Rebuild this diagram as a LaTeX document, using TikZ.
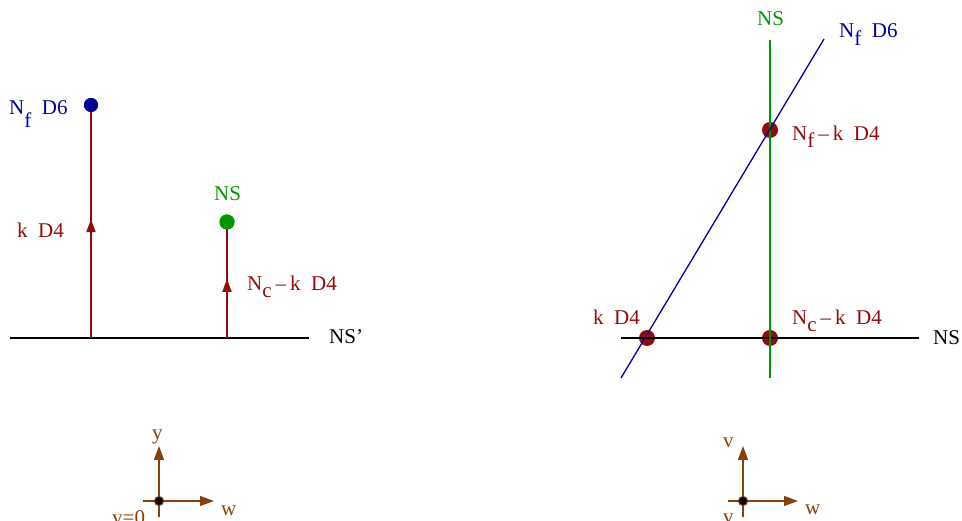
\documentclass[tikz,border=0pt]{standalone}
\usepackage{fontspec}
\setmainfont{Liberation Serif}
\usetikzlibrary{decorations.markings,arrows.meta}
\definecolor{dred}{RGB}{145,12,12}
\definecolor{dblue}{RGB}{0,0,150}
\definecolor{dgreen}{RGB}{0,150,0}
\definecolor{brn}{RGB}{135,65,15}
\newcommand{\lowsub}[2]{\raisebox{-#1pt}{#2}}
\newcommand{\dsh}{\hspace{4pt}–\hspace{4pt}}
\begin{document}
\begin{tikzpicture}[x=1pt,y=-1pt,
  every node/.style={font=\fontsize{21}{24}\selectfont, inner sep=0pt, anchor=base west},
  dot/.style={circle, fill=#1, minimum size=14pt, inner sep=0pt, anchor=center},
  smalldot/.style={circle, fill=black, draw=brn, line width=0.8pt, minimum size=9pt, inner sep=0pt, anchor=center},
  midarrow/.style={decoration={markings, mark=at position #1 with {\arrow{Triangle[length=13pt,width=9pt]}}}, postaction={decorate}},
  axisarrow/.style={brn, line width=1.2pt, -{Triangle[length=14pt,width=10pt]}},
  axisline/.style={brn, line width=1.2pt},
  baseline/.style={line width=1.4pt}]
\useasboundingbox (0,0) rectangle (962,521);
\clip (0,0) rectangle (962,521);
% ---------- left panel
\coordinate (LL) at (10,338);
\coordinate (LR) at (309,338);
\draw[baseline] (LL) -- (LR);
\node (nsp) at (329,344) {NS'};
\coordinate (B1) at (91,338);
\coordinate (B2) at (227,338);
\node[dot=dblue] (d6) at (91,105) {};
\node[dot=dgreen, minimum size=15pt] (nsdot) at (227,222) {};
\draw[dred, line width=2pt, midarrow=0.51] (B1) -- (d6.center);
\draw[dred, line width=2pt, midarrow=0.51] (B2) -- (nsdot.center);
\node[dot=dblue] at (91,105) {};
\node[dot=dgreen, minimum size=15pt] at (227,222) {};
\node[dblue] (nfd6) at (9,115) {N\lowsub{13}{f}\ \ D6};
\node[dred] (kd4l) at (17,238) {k\ \ D4};
\node[dgreen] (nsl) at (214,201) {NS};
\node[dred] (nckd4l) at (247,291) {N\lowsub{7}{c}\dsh k\ \ D4};
% ---------- right panel
\node[dot=dred, minimum size=16pt] (p1) at (770,130) {};
\node[dot=dred, minimum size=16pt] (p2) at (647,338) {};
\node[dot=dred, minimum size=16pt] (p3) at (770,338) {};
\coordinate (RL) at (621,338);
\coordinate (RR) at (919,338);
\draw[baseline] (RL) -- (RR);
\node (nsr) at (933,345) {NS};
\coordinate (GT) at (770,40);
\coordinate (GB) at (770,378);
\draw[dgreen, line width=1.3pt] (GB) -- (GT);
\coordinate (BB) at (621,378);
\coordinate (BT) at (824,39);
\draw[dblue, line width=1.3pt] (BB) -- (BT);
\node[dgreen] (nsr2) at (757,26) {NS};
\node[dblue] (nfd6r) at (839,38) {N\lowsub{8}{f}\ \ D6};
\node[dred] (nfkd4) at (792,141) {N\lowsub{7}{f}\dsh k\ \ D4};
\node[dred] (kd4r) at (593,325) {k\ \ D4};
\node[dred] (nckd4r) at (792,325) {N\lowsub{7}{c}\dsh k\ \ D4};
% ---------- left axes
\node[smalldot] (o1) at (159,501) {};
\coordinate (o1u) at (159,446);
\coordinate (o1d) at (159,517);
\coordinate (o1l) at (143,501);
\coordinate (o1r) at (214,501);
\draw[axisline] (o1d) -- (o1.center) (o1l) -- (o1.center);
\draw[axisarrow] (o1.center) -- (o1u);
\draw[axisarrow] (o1.center) -- (o1r);
\node[smalldot] at (159,501) {};
\node[brn] (y1) at (152,440) {y};
\node[brn] (w1) at (221,515) {w};
\node[brn] (y0) at (112,524) {y=0};
% ---------- right axes
\node[smalldot] (o2) at (743,501) {};
\coordinate (o2u) at (743,446);
\coordinate (o2d) at (743,517);
\coordinate (o2l) at (728,501);
\coordinate (o2r) at (798,501);
\draw[axisline] (o2d) -- (o2.center) (o2l) -- (o2.center);
\draw[axisarrow] (o2.center) -- (o2u);
\draw[axisarrow] (o2.center) -- (o2r);
\node[smalldot] at (743,501) {};
\node[brn] (v1) at (723,447) {v};
\node[brn] (w2) at (805,514) {w};
\node[brn] (v0) at (723,523) {v};
\end{tikzpicture}
\end{document}
